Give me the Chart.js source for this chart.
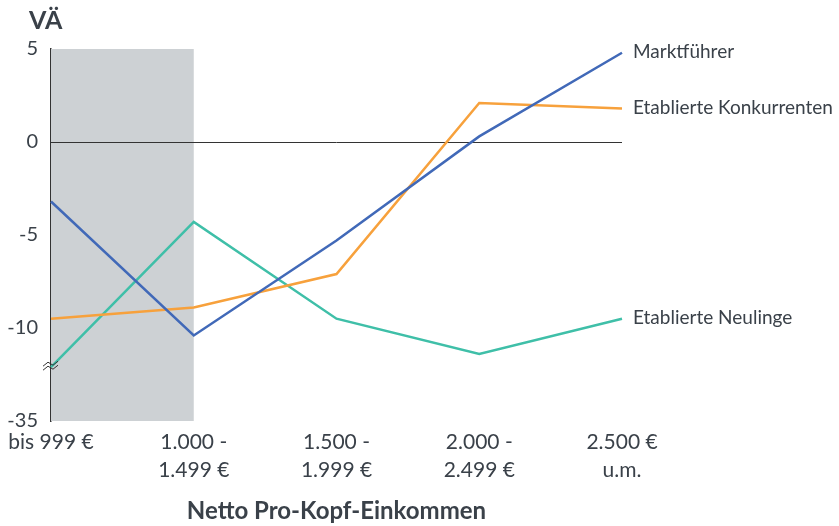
<!DOCTYPE html>
<html>
<head>
<meta charset="utf-8">
<script src="https://cdn.jsdelivr.net/npm/chart.js@4"></script>
<style>
  html, body { margin: 0; padding: 0; background: #fff; }
  #wrap { width: 839px; height: 526px; position: relative; }
</style>
</head>
<body>
<div id="wrap"><canvas id="myChart"></canvas></div>
<script>
// Daten
var categories = ["bis 999 €", ["1.000 -", "1.499 €"], ["1.500 -", "1.999 €"], ["2.000 -", "2.499 €"], ["2.500 €", "u.m."]];
var marktfuehrer = [-3.2, -10.4, -5.3, 0.3, 4.8];
var konkurrenten = [-9.5, -8.9, -7.1, 2.1, 1.8];
var neulinge = [-12.1, -4.3, -9.5, -11.4, -9.5];
var yTicks = [5, 0, -5, -10, -35];
var seriesNames = ["Marktführer", "Etablierte Konkurrenten", "Etablierte Neulinge"];

// Achsenbruch bei -12.5: darunter gestaucht, -35 liegt bei -15
function squash(v) {
    return v < -12.5 ? -12.5 + (v + 12.5) / 9 : v;
}
function unsquash(v) {
    return v < -12.5 ? Math.round(-12.5 + (v + 12.5) * 9) : v;
}

var textColor = '#3a4149';
var font = "Lato, 'Noto Sans', sans-serif";

var extras = {
    id: 'extras',
    beforeDatasetsDraw: function(chart) {
        var c = chart.ctx, a = chart.chartArea;
        var x = chart.scales.x, y = chart.scales.y;
        c.save();
        // grauer Bereich erste Kategorie
        c.fillStyle = '#cdd1d4';
        c.fillRect(x.getPixelForValue(0), a.top, x.getPixelForValue(1) - x.getPixelForValue(0), a.bottom - a.top);
        // Nulllinie
        c.strokeStyle = '#333';
        c.lineWidth = 1;
        c.beginPath();
        c.moveTo(a.left, Math.round(y.getPixelForValue(0)) + 0.5);
        c.lineTo(a.right, Math.round(y.getPixelForValue(0)) + 0.5);
        c.stroke();
        c.restore();
    },
    afterDatasetsDraw: function(chart) {
        var c = chart.ctx, a = chart.chartArea;
        var y = chart.scales.y;
        c.save();
        // Bruchzeichen
        var by = y.getPixelForValue(-12.0);
        c.strokeStyle = '#333';
        c.lineWidth = 1;
        [-2, 2].forEach(function(o) {
            c.beginPath();
            c.moveTo(a.left - 8, by + o + 3);
            c.lineTo(a.left - 3, by + o - 1);
            c.lineTo(a.left + 2, by + o + 2);
            c.lineTo(a.left + 7, by + o - 2);
            c.stroke();
        });
        // Beschriftung am Linienende
        c.fillStyle = textColor;
        c.font = '19px ' + font;
        c.textBaseline = 'middle';
        c.textAlign = 'left';
        chart.data.datasets.forEach(function(ds, i) {
            var meta = chart.getDatasetMeta(i);
            var p = meta.data[meta.data.length - 1];
            c.fillText(ds.label, p.x + 11, p.y - 1);
        });
        // Titel
        c.font = 'bold 25px ' + font;
        c.textBaseline = 'alphabetic';
        c.fillText('VÄ', 29, 29);
        c.restore();
    }
};

var ctx = document.getElementById('myChart').getContext('2d');
var myChart = new Chart(ctx, {
    type: 'line',
    data: {
        labels: categories,
        datasets: [{
                label: seriesNames[0],
                data: marktfuehrer.map(squash),
                borderWidth: 2.5,
                borderColor: '#4169b8',
                backgroundColor: "transparent",
                pointRadius: 0,
                tension: 0
            },
            {
                label: seriesNames[1],
                data: konkurrenten.map(squash),
                borderWidth: 2.5,
                borderColor: '#f7a13c',
                backgroundColor: "transparent",
                pointRadius: 0,
                tension: 0
            },
            {
                label: seriesNames[2],
                data: neulinge.map(squash),
                borderWidth: 2.5,
                borderColor: '#3fbfa8',
                backgroundColor: "transparent",
                pointRadius: 0,
                tension: 0
            },
        ]
    },
    options: {
        responsive: true,
        maintainAspectRatio: false,
        animation: false,
        layout: {
            padding: { top: 49, right: 217, left: 0, bottom: 0 }
        },
        plugins: {
            legend: { display: false },
            tooltip: { enabled: false }
        },
        scales: {
            x: {
                offset: false,
                grid: { display: false, drawTicks: false },
                border: { display: false },
                ticks: {
                    color: textColor,
                    font: { family: font, size: 21, lineHeight: 1.3 },
                    maxRotation: 0,
                    autoSkip: false,
                    padding: 8
                },
                title: {
                    display: true,
                    text: 'Netto Pro-Kopf-Einkommen',
                    color: textColor,
                    font: { family: font, size: 24, weight: 'bold' },
                    padding: { top: 16, bottom: 0 }
                },
                afterFit: function(s) { s.height = 105; }
            },
            y: {
                min: -15,
                max: 5,
                afterBuildTicks: function(s) {
                    s.ticks = yTicks.map(function(v) { return { value: squash(v) }; });
                },
                grid: { display: false, drawTicks: false },
                border: { display: true, color: '#333', width: 1.5 },
                ticks: {
                    color: textColor,
                    font: { family: font, size: 20 },
                    padding: 13,
                    callback: function(v) { return unsquash(v); }
                },
                afterFit: function(s) { s.width = 51; }
            }
        }
    },
    plugins: [extras]
});
</script>
</body>
</html>
